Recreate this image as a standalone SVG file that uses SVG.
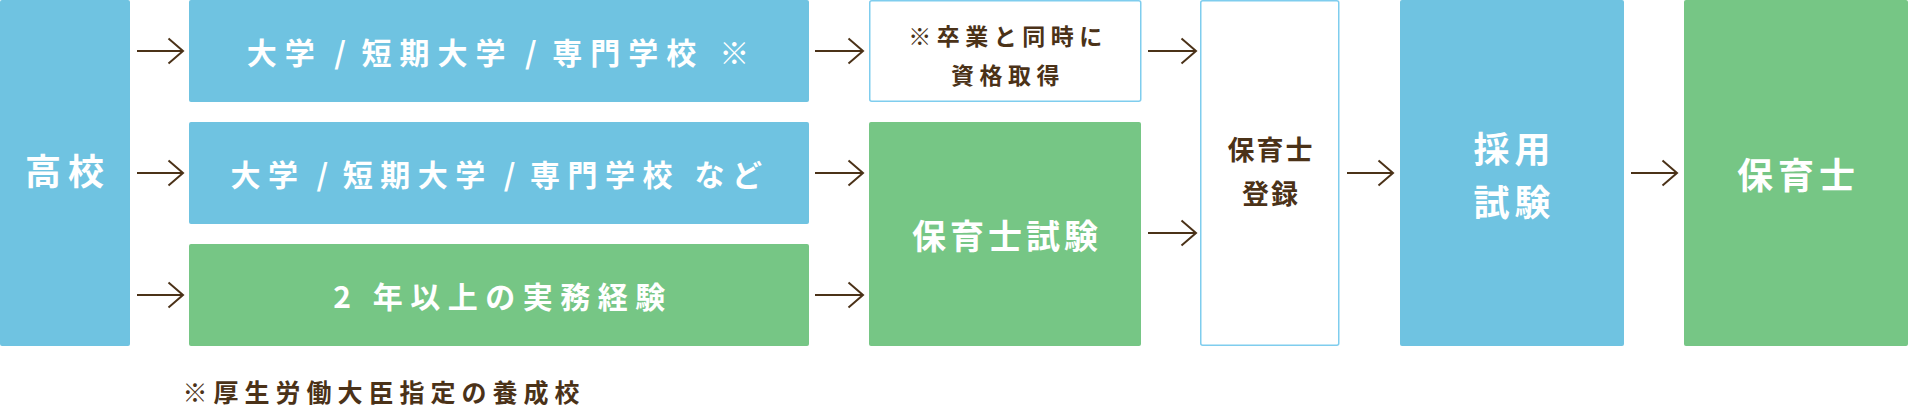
<svg xmlns="http://www.w3.org/2000/svg" width="1908" height="406" viewBox="0 0 1908 406">
<defs>
<style>
.blue{fill:#6fc3e1}
.green{fill:#76c685}
.outline{fill:#ffffff;stroke:#7fcdee;stroke-width:1.5}
text{font-family:"Noto Sans CJK JP","Noto Sans",sans-serif;font-weight:700;text-anchor:middle;dominant-baseline:central}
.w{fill:#ffffff}
.b{fill:#4b3218}
.conn{fill:none;stroke:#4b3218;stroke-width:2}
</style>
<marker id="arr" markerUnits="userSpaceOnUse" markerWidth="20" markerHeight="30" refX="16" refY="14" orient="auto">
<path d="M1.5,1.5 L16,14 L1.5,26.5" fill="none" stroke="#4b3218" stroke-width="2"/>
</marker>
</defs>
<rect width="1908" height="406" fill="#ffffff"/>

<g id="koukou">
<rect class="blue" x="0" y="0" width="130" height="346" rx="2"/>
<text class="w" x="68" y="169" font-size="36" letter-spacing="7">高校</text>
</g>

<g id="daigaku1">
<rect class="blue" x="189" y="0" width="620" height="102" rx="2"/>
<text class="w" x="502" y="51" font-size="30" letter-spacing="8"><tspan>大学</tspan><tspan letter-spacing="4.5"> / </tspan><tspan>短期大学</tspan><tspan letter-spacing="4.5"> / </tspan><tspan>専門学校  ※</tspan></text>
</g>

<g id="daigaku2">
<rect class="blue" x="189" y="122" width="620" height="102" rx="2"/>
<text class="w" x="500" y="173" font-size="30" letter-spacing="7.5"><tspan>大学</tspan><tspan letter-spacing="4"> / </tspan><tspan>短期大学</tspan><tspan letter-spacing="4"> / </tspan><tspan>専門学校 など</tspan></text>
</g>

<g id="jitsumu">
<rect class="green" x="189" y="244" width="620" height="102" rx="2"/>
<text class="w" x="503" y="295" font-size="30" letter-spacing="7.5">2 年以上の実務経験</text>
</g>

<g id="sotsugyou">
<rect class="outline" x="869.75" y="0.75" width="271" height="100.5" rx="2"/>
<text class="b" font-size="23" letter-spacing="5.5"><tspan x="1008" y="35">※卒業と同時に</tspan><tspan x="1008" y="74">資格取得</tspan></text>
</g>

<g id="shiken">
<rect class="green" x="869" y="122" width="272" height="224" rx="2"/>
<text class="w" x="1007" y="234" font-size="34" letter-spacing="4">保育士試験</text>
</g>

<g id="touroku">
<rect class="outline" x="1200.75" y="0.75" width="138" height="344.5" rx="2"/>
<text class="b" font-size="27" letter-spacing="2"><tspan x="1271" y="148">保育士</tspan><tspan x="1271" y="192">登録</tspan></text>
</g>

<g id="saiyou">
<rect class="blue" x="1400" y="0" width="224" height="346" rx="2"/>
<text class="w" font-size="36" letter-spacing="5"><tspan x="1514.5" y="147">採用</tspan><tspan x="1514.5" y="200">試験</tspan></text>
</g>

<g id="hoikushi">
<rect class="green" x="1684" y="0" width="224" height="346" rx="2"/>
<text class="w" x="1798.5" y="173" font-size="36" letter-spacing="5">保育士</text>
</g>

<g id="connectors">
<path class="conn" marker-end="url(#arr)" d="M137,51 H183"/>
<path class="conn" marker-end="url(#arr)" d="M137,173 H183"/>
<path class="conn" marker-end="url(#arr)" d="M137,295 H183"/>
<path class="conn" marker-end="url(#arr)" d="M815,51 H863"/>
<path class="conn" marker-end="url(#arr)" d="M815,173 H863"/>
<path class="conn" marker-end="url(#arr)" d="M815,295 H863"/>
<path class="conn" marker-end="url(#arr)" d="M1148,51 H1196"/>
<path class="conn" marker-end="url(#arr)" d="M1148,233 H1196"/>
<path class="conn" marker-end="url(#arr)" d="M1347,173 H1393"/>
<path class="conn" marker-end="url(#arr)" d="M1631,173 H1677"/>
</g>

<g id="footnote">
<text class="b" x="384" y="391" font-size="25" letter-spacing="6">※厚生労働大臣指定の養成校</text>
</g>
</svg>
